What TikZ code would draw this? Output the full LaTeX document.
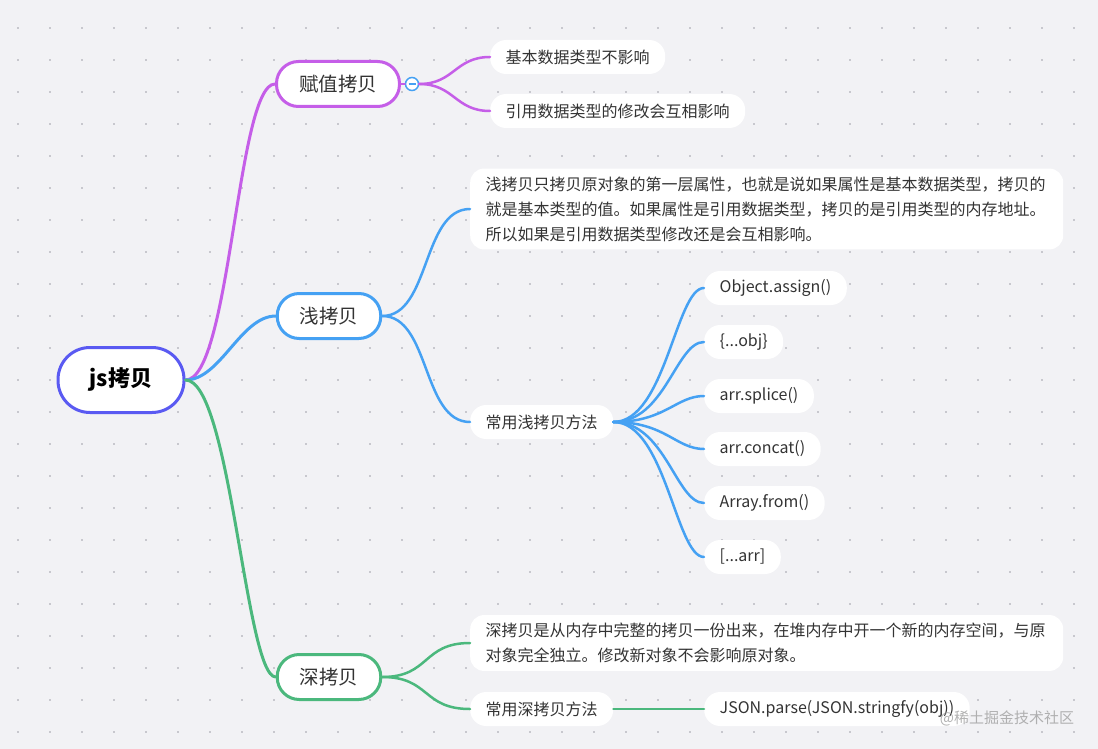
\documentclass[tikz,border=0pt]{standalone}
\usepackage{fontspec}
\setmainfont{Noto Sans CJK SC}
\usetikzlibrary{positioning}
\definecolor{fondoLienzo}{HTML}{F2F2F5}
\definecolor{puntoRejilla}{HTML}{C8C8CE}
\definecolor{indigoRaiz}{HTML}{5A5AF2}
\definecolor{moradoRama}{HTML}{C55EE8}
\definecolor{azulRama}{HTML}{45A1F3}
\definecolor{verdeRama}{HTML}{4BB87D}
\definecolor{textoOscuro}{HTML}{333333}
\tikzset{
  cajaRaiz/.style={
    draw=indigoRaiz, line width=3pt, rounded corners=32pt,
    fill=white, minimum width=126pt, minimum height=65pt,
    font=\fontsize{22}{26}\selectfont\bfseries, text=black
  },
  cajaRama/.style={
    line width=3pt, rounded corners=22pt, fill=white,
    minimum height=45pt, inner xsep=22.5pt,
    font=\fontsize{19.5}{23}\selectfont, text=textoOscuro
  },
  cajaHoja/.style={
    fill=white, rounded corners=16pt, anchor=west,
    minimum height=34pt, inner xsep=15.5pt, inner ysep=0pt,
    font=\fontsize{16}{20}\selectfont, text=textoOscuro
  },
  cajaParrafo/.style={
    cajaHoja, rounded corners=14pt, minimum height=0pt, inner ysep=8pt,
    text width=562pt, align=left, font=\fontsize{16}{25}\selectfont
  },
  botonPlegar/.style={circle, draw=azulRama, line width=1.5pt, fill=white,
    minimum size=13pt, inner sep=0pt},
  lineaRama/.style={line width=3pt, line cap=round},
  lineaHoja/.style={line width=2.5pt, line cap=round},
}

\begin{document}
\begin{tikzpicture}[x=1pt, y=-1pt]
    \useasboundingbox[fill=fondoLienzo] (0,0) rectangle (1098,749);
    \foreach \x in {18,50,...,1098}
      \foreach \y in {28,60,...,749}
        \fill[puntoRejilla] (\x-1,\y-1) rectangle ++(2,2);

    % tronco y ramas
    \node[cajaRaiz] (raiz) at (121,380) {js拷贝};
    \node[cajaRama, draw=moradoRama] (copiaValor) at (338,84) {赋值拷贝};
    \node[cajaRama, draw=azulRama] (copiaSuperficial) at (329,316) {浅拷贝};
    \node[cajaRama, draw=verdeRama] (copiaProfunda) at (329,677) {深拷贝};

    \draw[lineaRama, moradoRama] (raiz.east) .. controls +(45,0) and +(-38,0) .. (copiaValor.west);
    \draw[lineaRama, azulRama] (raiz.east) .. controls +(35,0) and +(-35,0) .. (copiaSuperficial.west);
    \draw[lineaRama, verdeRama] (raiz.east) .. controls +(45,0) and +(-30,0) .. (copiaProfunda.west);

    % 赋值拷贝
    \node[botonPlegar] (plegar) at (412,84) {};
    \draw[azulRama, line width=1.5pt] ([xshift=-3.5pt]plegar.center) -- ([xshift=3.5pt]plegar.center);
    \node[cajaHoja] (hojaBasico) at (490,57) {基本数据类型不影响};
    \node[cajaHoja] (hojaReferencia) at (490,111) {引用数据类型的修改会互相影响};
    \draw[lineaHoja, moradoRama] (copiaValor.east) -- (plegar.west);
    \draw[lineaHoja, moradoRama] (plegar.east) .. controls +(35,0) and +(-35,0) .. (hojaBasico.west);
    \draw[lineaHoja, moradoRama] (plegar.east) .. controls +(35,0) and +(-35,0) .. (hojaReferencia.west);

    % 浅拷贝
    \node[cajaParrafo] (textoSuperficial) at (470,209) {浅拷贝只拷贝原对象的第一层属性，也就是说如果属性是基本数据类型，拷贝的\\就是基本类型的值。如果属性是引用数据类型，拷贝的是引用类型的内存地址。\\所以如果是引用数据类型修改还是会互相影响。};
    \node[cajaHoja] (metodosSuperficial) at (470,422) {常用浅拷贝方法};
    \draw[lineaHoja, azulRama] (copiaSuperficial.east) .. controls +(48,0) and +(-48,0) .. (textoSuperficial.west);
    \draw[lineaHoja, azulRama] (copiaSuperficial.east) .. controls +(48,0) and +(-48,0) .. (metodosSuperficial.west);

    \node[cajaHoja] (metAssign) at (704,288) {Object.assign()};
    \node[cajaHoja] (metObj) at (704,342) {\{...obj\}};
    \node[cajaHoja] (metSplice) at (704,396) {arr.splice()};
    \node[cajaHoja] (metConcat) at (704,449) {arr.concat()};
    \node[cajaHoja] (metFrom) at (704,503) {Array.from()};
    \node[cajaHoja] (metArr) at (704,557) {[...arr]};
    \draw[lineaHoja, azulRama] (metodosSuperficial.east) .. controls +(52,0) and +(-28,0) .. (metAssign.west);
    \draw[lineaHoja, azulRama] (metodosSuperficial.east) .. controls +(52,0) and +(-28,0) .. (metObj.west);
    \draw[lineaHoja, azulRama] (metodosSuperficial.east) .. controls +(52,0) and +(-28,0) .. (metSplice.west);
    \draw[lineaHoja, azulRama] (metodosSuperficial.east) .. controls +(52,0) and +(-28,0) .. (metConcat.west);
    \draw[lineaHoja, azulRama] (metodosSuperficial.east) .. controls +(52,0) and +(-28,0) .. (metFrom.west);
    \draw[lineaHoja, azulRama] (metodosSuperficial.east) .. controls +(52,0) and +(-28,0) .. (metArr.west);

    % 深拷贝
    \node[cajaParrafo] (textoProfundo) at (470,643) {深拷贝是从内存中完整的拷贝一份出来，在堆内存中开一个新的内存空间，与原\\对象完全独立。修改新对象不会影响原对象。};
    \node[cajaHoja] (metodosProfundo) at (470,709) {常用深拷贝方法};
    \node[cajaHoja] (metJson) at (704,709) {JSON.parse(JSON.stringfy(obj))};
    \draw[lineaHoja, verdeRama] (copiaProfunda.east) .. controls +(48,0) and +(-48,0) .. (textoProfundo.west);
    \draw[lineaHoja, verdeRama] (copiaProfunda.east) .. controls +(48,0) and +(-48,0) .. (metodosProfundo.west);
    \draw[lineaHoja, verdeRama] (metodosProfundo.east) -- (metJson.west);

    \node[font=\fontsize{15}{18}\selectfont, text=gray!75, opacity=0.8] (marcaAgua) at (1007,718) {@稀土掘金技术社区};
  \end{tikzpicture}
\end{document}
